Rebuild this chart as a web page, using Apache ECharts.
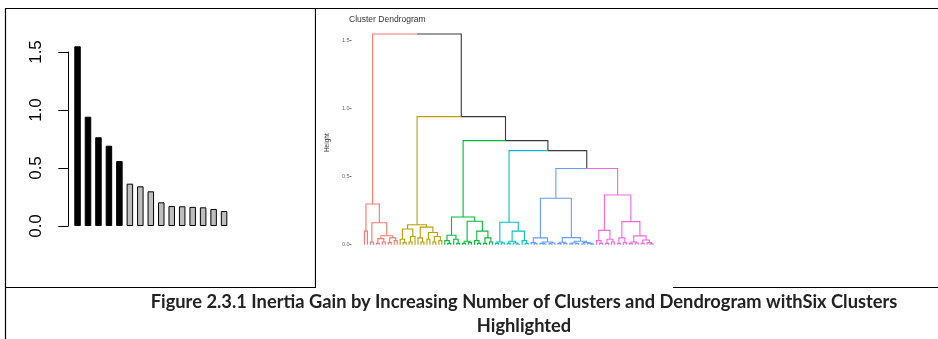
<!DOCTYPE html>
<html>
<head>
<meta charset="utf-8">
<script src="https://cdn.jsdelivr.net/npm/echarts@6/dist/echarts.min.js"></script>
<style>
  html, body { margin: 0; padding: 0; background: #fff; }
  #page { position: absolute; left: 0; top: 0; width: 938px; height: 339px; }
  #dend { position: absolute; left: 316px; top: 9px; width: 357px; height: 279px; background: #fff; filter: blur(0.45px); }
</style>
</head>
<body>
<div id="page"></div>
<div id="dend"></div>
<script>
// ---- Inertia gain for each additional cluster ----
const clusterSteps = ['1', '2', '3', '4', '5', '6', '7', '8', '9', '10', '11', '12', '13', '14', '15'];
const inertiaGain = [1.549, 0.942, 0.765, 0.692, 0.560, 0.365, 0.342, 0.299, 0.204, 0.172, 0.170, 0.165, 0.161, 0.147, 0.129];
const retainedSteps = 5;            // gains up to the six-cluster cut
const gainTicks = [0, 0.5, 1.0, 1.5];
const heightTicks = [0, 0.5, 1.0, 1.5];

// ---- Dendrogram: one nested tree per cluster, node = [height, left, right], leaf = 0 ----
const redCluster = [0.299,
  [0.10, 0, 0],
  [0.161, [0.02, 0, 0],
    [0.066, [0.045, [0.01, 0, 0], [0.02, 0, 0]], [0.05, [0.015, 0, 0], [0.03, 0, 0]]]]];
const yellowCluster = [0.147,
  [0.115, [0.04, 0, [0.015, 0, 0]], [0.06, [0.02, 0, 0], 0]],
  [0.129, [0.05, 0, [0.02, 0, 0]], [0.09, [0.04, 0, 0], [0.06, [0.02, 0, 0], [0.03, 0, 0]]]]];
const greenCluster = [0.204,
  [0.07, [0.03, 0, [0.01, 0, 0]], [0.04, 0, [0.01, 0, 0]]],
  [0.172, [0.025, [0.01, 0, 0], [0.015, 0, 0]],
    [0.10, [0.03, 0, [0.01, 0, 0]], [0.05, [0.01, 0, 0], [0.02, 0, 0]]]]];
const cyanCluster = [0.165,
  [0.02, [0.01, 0, 0], [0.012, 0, 0]],
  [0.10, [0.025, [0.01, 0, 0], [0.012, 0, [0.005, 0, 0]]], [0.03, 0, [0.01, 0, 0]]]];
const blueCluster = [0.342,
  [0.05, [0.015, 0, [0.008, 0, 0]], [0.02, [0.01, 0, [0.005, 0, 0]], [0.012, [0.006, 0, 0], 0]]],
  [0.052, [0.018, [0.008, 0, 0], [0.01, 0, 0]],
    [0.025, [0.012, [0.006, 0, 0], [0.008, 0, 0]], [0.015, [0.005, 0, 0], [0.01, 0, [0.004, 0, 0]]]]]];
const pinkCluster = [0.365,
  [0.105, [0.03, 0, [0.01, 0, 0]], [0.04, [0.01, 0, 0], [0.02, 0, 0]]],
  [0.17, [0.05, [0.01, 0, 0], [0.015, 0, 0]],
    [0.065, [0.02, [0.008, 0, 0], [0.012, 0, 0]], [0.035, [0.01, 0, 0], [0.015, 0, [0.006, 0, 0]]]]]];
const clusterTrees = [redCluster, yellowCluster, greenCluster, cyanCluster, blueCluster, pinkCluster];
const clusterColors = ['#F8766D', '#B79F00', '#00BA38', '#00BFC4', '#619CFF', '#F564E3'];
// merges above the six-cluster cut, from the root downwards
const upperMergeHeights = [1.549, 0.942, 0.765, 0.692, 0.560];
const upperColor = '#3a3a3a';

// ---------- bar chart + frame + caption ----------
const page = echarts.init(document.getElementById('page'), null, { renderer: 'canvas' });
const barFont = 'Liberation Sans, Arial, sans-serif';
const captionFont = 'Lato, "Open Sans", sans-serif';
const captionStyle = { fill: '#222', font: 'bold 18.3px ' + captionFont, textAlign: 'center', textVerticalAlign: 'middle' };

page.setOption({
  animation: false,
  backgroundColor: '#fff',
  grid: { left: 72.3, top: 52, width: 157, height: 174, containLabel: false },
  xAxis: { type: 'category', data: clusterSteps, show: false },
  yAxis: {
    type: 'value', min: 0, max: 1.5, interval: 0.5, offset: 4,
    axisLine: { show: true, onZero: false, lineStyle: { color: '#000', width: 1 } },
    axisTick: { show: true, length: 10, lineStyle: { color: '#000', width: 1 } },
    splitLine: { show: false },
    axisLabel: {
      rotate: 90, margin: 23, color: '#000', fontSize: 17, fontFamily: barFont,
      formatter: v => gainTicks.indexOf(v) >= 0 ? v.toFixed(1) : ''
    }
  },
  series: [{
    type: 'bar', clip: false, barWidth: 6.5,
    data: inertiaGain.map((v, i) => ({
      value: v,
      itemStyle: { color: i < retainedSteps ? '#000' : '#bebebe', borderColor: '#000', borderWidth: 1 }
    }))
  }],
  graphic: [
    { type: 'line', shape: { x1: 5, y1: 8.5, x2: 938, y2: 8.5 }, style: { stroke: '#000', lineWidth: 1.2 } },
    { type: 'line', shape: { x1: 5.5, y1: 8, x2: 5.5, y2: 339 }, style: { stroke: '#000', lineWidth: 1.2 } },
    { type: 'line', shape: { x1: 315.5, y1: 8, x2: 315.5, y2: 288 }, style: { stroke: '#000', lineWidth: 1.2 } },
    { type: 'line', shape: { x1: 5, y1: 287.5, x2: 316, y2: 287.5 }, style: { stroke: '#000', lineWidth: 1.2 } },
    { type: 'line', shape: { x1: 672, y1: 287.5, x2: 938, y2: 287.5 }, style: { stroke: '#000', lineWidth: 1.2 } },
    {
      type: 'text', x: 524, y: 302,
      style: Object.assign({ text: 'Figure 2.3.1 Inertia Gain by Increasing Number of Clusters and Dendrogram withSix Clusters' }, captionStyle)
    },
    {
      type: 'text', x: 524, y: 326,
      style: Object.assign({ text: 'Highlighted' }, captionStyle)
    }
  ]
});

// ---------- dendrogram ----------
function buildTree(node, color) {
  if (!Array.isArray(node)) return { h: 0, kids: [], color: color };
  return { h: node[0], kids: [buildTree(node[1], color), buildTree(node[2], color)], color: color };
}
let root = null;
for (let i = clusterTrees.length - 1; i >= 0; i--) {
  const sub = buildTree(clusterTrees[i], clusterColors[i]);
  root = root ? { h: upperMergeHeights[i], kids: [sub, root], color: upperColor } : sub;
}
// leaves take consecutive positions; an inner node sits midway between its two children
let leafCount = 0;
function place(n) {
  if (!n.kids.length) { n.x = leafCount++; return; }
  n.kids.forEach(place);
  n.x = (n.kids[0].x + n.kids[1].x) / 2;
}
place(root);
const edges = [];
function collect(n) {
  n.kids.forEach(k => {
    edges.push({ coords: [[n.x, n.h], [k.x, n.h], [k.x, k.h]], lineStyle: { color: k.color } });
    collect(k);
  });
}
collect(root);

// panel: leaves span 291px, with 13px of padding on both sides of the leaf range
const leafSpan = 291, sidePad = 13;
const xPad = sidePad * (leafCount - 1) / leafSpan;

const dend = echarts.init(document.getElementById('dend'), null, { renderer: 'canvas' });
const smallFont = 'Liberation Sans, Arial, sans-serif';
dend.setOption({
  animation: false,
  backgroundColor: '#fff',
  title: {
    text: 'Cluster Dendrogram', left: 28, top: 1,
    textStyle: { fontSize: 8.5, fontWeight: 'normal', color: '#333', fontFamily: smallFont }
  },
  grid: { left: 46 - sidePad, top: 31.7, width: leafSpan + 2 * sidePad, height: 204, containLabel: false },
  xAxis: { type: 'value', min: -xPad, max: leafCount - 1 + xPad, show: false },
  yAxis: {
    type: 'value', min: 0, max: 1.5, interval: 0.5,
    name: 'Height', nameLocation: 'middle', nameGap: 11, nameRotate: 90,
    nameTextStyle: { fontSize: 6.5, color: '#333', fontFamily: smallFont },
    axisLine: { show: false, onZero: false },
    axisTick: { show: true, length: 2, lineStyle: { color: '#555', width: 0.8 } },
    splitLine: { show: false },
    axisLabel: {
      margin: 2, fontSize: 5.5, color: '#666', fontFamily: smallFont,
      formatter: v => heightTicks.indexOf(v) >= 0 ? v.toFixed(1) : ''
    }
  },
  series: [{
    type: 'lines', coordinateSystem: 'cartesian2d', polyline: true, clip: false,
    silent: true,
    lineStyle: { width: 1.1, opacity: 1, curveness: 0 },
    data: edges
  }]
});
</script>
</body>
</html>
